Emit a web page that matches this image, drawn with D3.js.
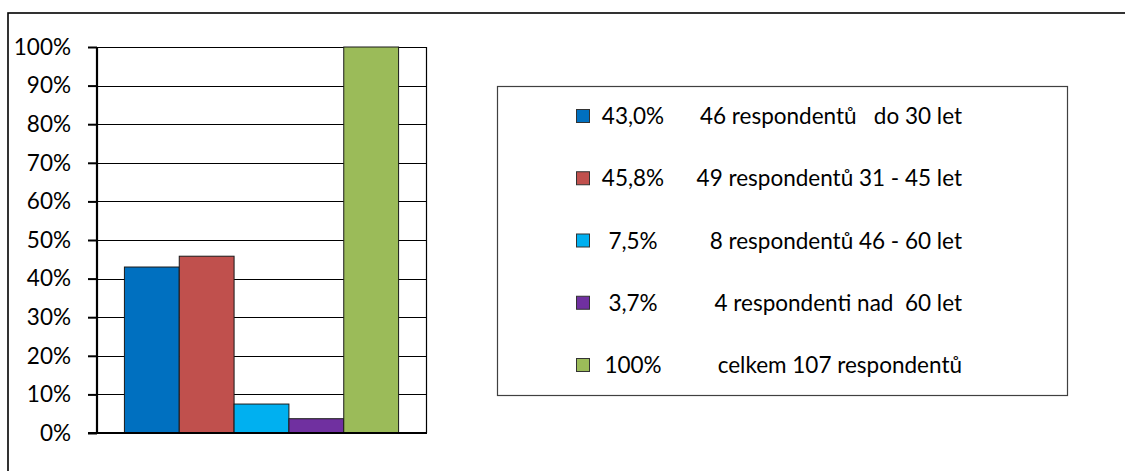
<!DOCTYPE html>
<html>
<head>
<meta charset="utf-8">
<script src="https://cdn.jsdelivr.net/npm/d3@7"></script>
<style>
  html, body { margin: 0; padding: 0; background: #fff; }
  svg { display: block; }
  text { font-family: Lato, "Open Sans", sans-serif; fill: #000; }
</style>
</head>
<body>
<svg id="chart" width="1125" height="471"></svg>
<script>
// ---- data ----
const categories = [""];
const seriesNames = ["do 30 let", "31 - 45 let", "46 - 60 let", "nad 60 let", "celkem"];
const seriesValues = [0.430, 0.458, 0.075, 0.037, 1.0];
const seriesColors = ["#0070C0", "#C0504D", "#00B0F0", "#7030A0", "#9BBB59"];
const tickValues = [0, 0.1, 0.2, 0.3, 0.4, 0.5, 0.6, 0.7, 0.8, 0.9, 1.0];
const tickLabels = ["0%", "10%", "20%", "30%", "40%", "50%", "60%", "70%", "80%", "90%", "100%"];
const legendPct = ["43,0%", "45,8%", "7,5%", "3,7%", "100%"];
const legendDesc = ["46 respondentů   do 30 let", "49 respondentů 31 - 45 let", "8 respondentů 46 - 60 let", "4 respondenti nad  60 let", "celkem 107 respondentů"];

const svg = d3.select("#chart");

// outer chart border (extends past right/bottom edges)
svg.append("rect")
  .attr("x", 8).attr("y", 13)
  .attr("width", 1130).attr("height", 470)
  .attr("fill", "none").attr("stroke", "#000").attr("stroke-width", 1.6);

const plot = { left: 97, right: 426, top: 47, bottom: 433 };

const y = d3.scaleLinear().domain([0, 1]).range([plot.bottom, plot.top]);
const x0 = d3.scaleBand().domain(categories).range([plot.left, plot.right]).paddingInner(0).paddingOuter(0.1);
const x1 = d3.scaleBand().domain(seriesNames).range([0, x0.bandwidth()]).padding(0);

// gridlines
svg.append("g")
  .selectAll("line")
  .data(tickValues.filter(v => v > 0))
  .join("line")
  .attr("x1", plot.left).attr("x2", plot.right)
  .attr("y1", d => Math.round(y(d)) + 0.5).attr("y2", d => Math.round(y(d)) + 0.5)
  .attr("stroke", "#000").attr("stroke-width", 1.2);

// right border of plot area
svg.append("line")
  .attr("x1", plot.right + 0.5).attr("x2", plot.right + 0.5)
  .attr("y1", plot.top).attr("y2", plot.bottom)
  .attr("stroke", "#000").attr("stroke-width", 1.2);

// bars
svg.append("g")
  .selectAll("rect")
  .data(seriesNames.map((s, i) => ({ s, v: seriesValues[i], c: seriesColors[i] })))
  .join("rect")
  .attr("x", d => x0("") + x1(d.s))
  .attr("width", x1.bandwidth())
  .attr("y", d => y(d.v))
  .attr("height", d => y(0) - y(d.v))
  .attr("fill", d => d.c)
  .attr("stroke", "#1a1a1a").attr("stroke-width", 1);

// y axis
const yAxis = d3.axisLeft(y)
  .tickValues(tickValues)
  .tickFormat((d, i) => tickLabels[i])
  .tickSize(9)
  .tickPadding(17);
const gy = svg.append("g")
  .attr("transform", `translate(${plot.left},0)`)
  .call(yAxis);
gy.select(".domain").remove();
gy.selectAll(".tick line").attr("stroke", "#000").attr("stroke-width", 2);
gy.selectAll(".tick text")
  .attr("font-family", "Lato, sans-serif")
  .attr("font-size", 22.5)
  .attr("fill", "#000");
gy.append("line")
  .attr("x1", 0).attr("x2", 0).attr("y1", plot.top).attr("y2", plot.bottom)
  .attr("stroke", "#000").attr("stroke-width", 2.2);

// x axis base line
svg.append("line")
  .attr("x1", plot.left - 9).attr("x2", plot.right + 1)
  .attr("y1", plot.bottom).attr("y2", plot.bottom)
  .attr("stroke", "#000").attr("stroke-width", 2.2);

// legend
const lg = { x: 497, y: 86, w: 570, h: 309 };
svg.append("rect")
  .attr("x", lg.x + 0.5).attr("y", lg.y + 0.5)
  .attr("width", lg.w).attr("height", lg.h)
  .attr("fill", "#fff").attr("stroke", "#404040").attr("stroke-width", 1.2);

const rowY = d3.scalePoint().domain(d3.range(seriesNames.length)).range([116, 365]);
const items = svg.append("g").selectAll("g")
  .data(seriesNames.map((s, i) => ({ i, c: seriesColors[i], p: legendPct[i], t: legendDesc[i] })))
  .join("g")
  .attr("transform", d => `translate(0,${rowY(d.i)})`);

items.append("rect")
  .attr("x", 576.5).attr("y", -6.5)
  .attr("width", 13).attr("height", 13)
  .attr("fill", d => d.c).attr("stroke", "#333").attr("stroke-width", 1);

items.append("text")
  .attr("x", 633).attr("y", 0)
  .attr("dy", "0.36em")
  .attr("text-anchor", "middle")
  .attr("font-size", 22.5)
  .text(d => d.p);

items.append("text")
  .attr("x", 962).attr("y", 0)
  .attr("dy", "0.36em")
  .attr("text-anchor", "end")
  .attr("font-size", 22.5)
  .style("white-space", "pre")
  .attr("xml:space", "preserve")
  .text(d => d.t);
</script>
</body>
</html>
